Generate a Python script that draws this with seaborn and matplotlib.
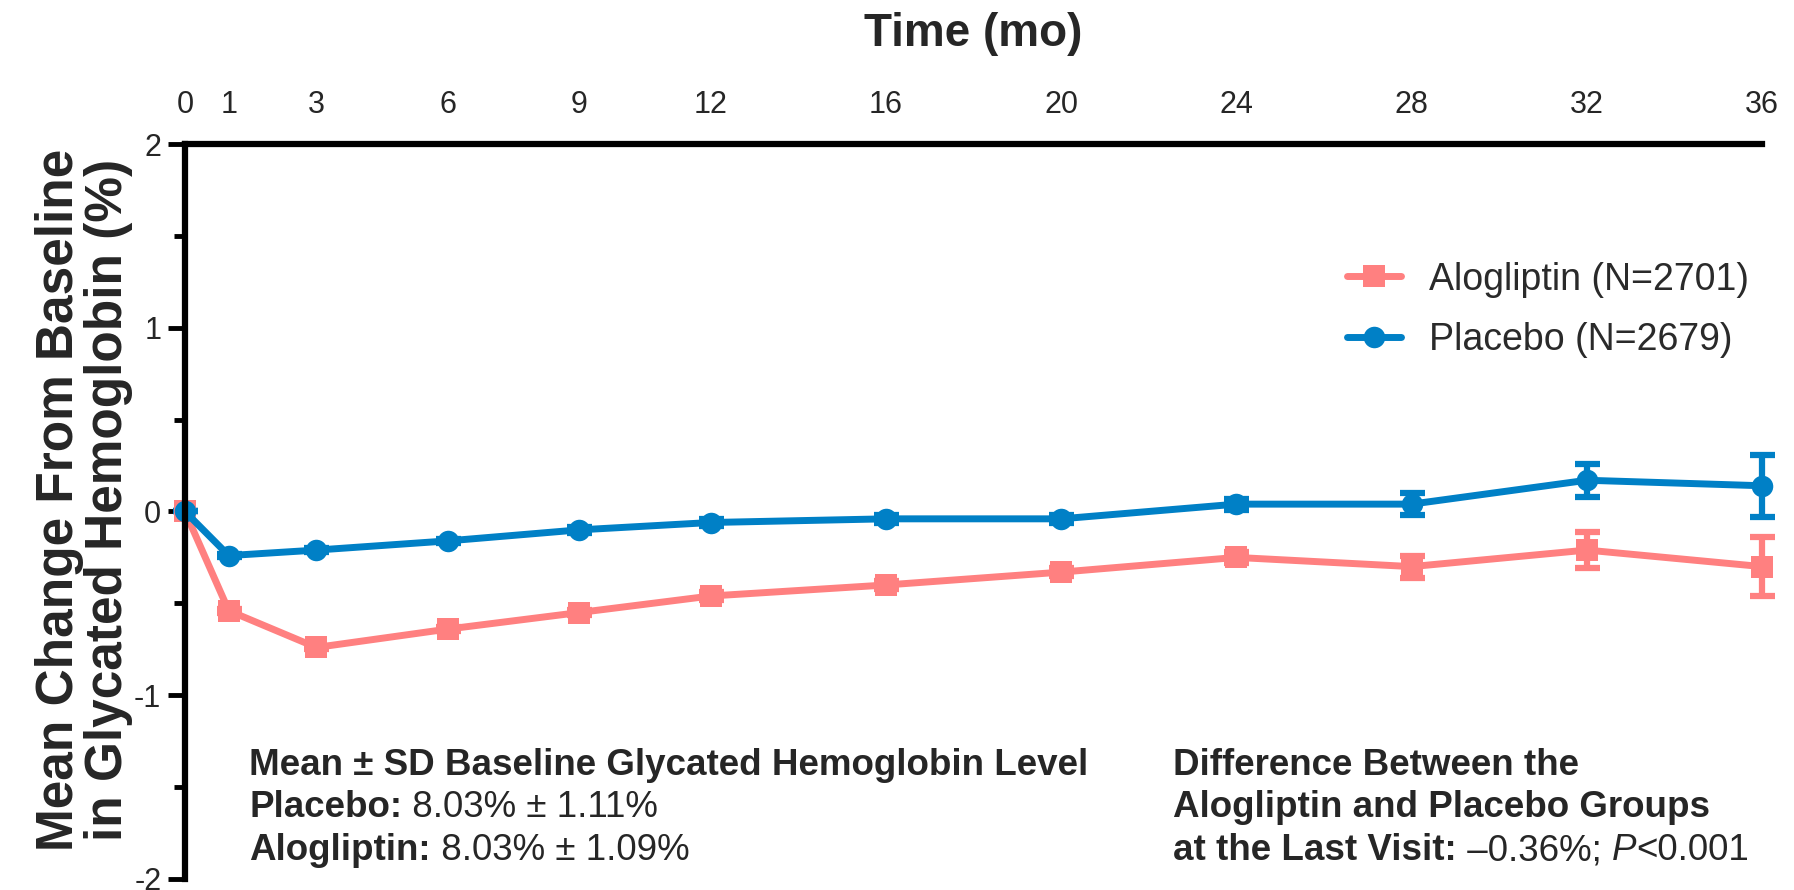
import matplotlib
matplotlib.use('Agg')
import pandas as pd
import seaborn as sns
from matplotlib import pyplot as plt
from matplotlib import font_manager
from matplotlib.ticker import MultipleLocator

months = [0, 1, 3, 6, 9, 12, 16, 20, 24, 28, 32, 36]
alogliptin_change = [0, -0.54, -0.74, -0.64, -0.55, -0.46, -0.40, -0.33, -0.25, -0.30, -0.21, -0.30]
alogliptin_err = [0, 0.01, 0.01, 0.01, 0.015, 0.02, 0.02, 0.02, 0.03, 0.06, 0.10, 0.16]
placebo_change = [0, -0.24, -0.21, -0.16, -0.10, -0.06, -0.04, -0.04, 0.04, 0.04, 0.17, 0.14]
placebo_err = [0, 0.01, 0.01, 0.01, 0.015, 0.02, 0.02, 0.02, 0.03, 0.06, 0.09, 0.17]
group_names = ['Alogliptin (N=2701)', 'Placebo (N=2679)']
y_ticks = [-2, -1, 0, 1, 2]

df = pd.concat([
    pd.DataFrame({'month': months, 'change': alogliptin_change, 'err': alogliptin_err, 'group': group_names[0]}),
    pd.DataFrame({'month': months, 'change': placebo_change, 'err': placebo_err, 'group': group_names[1]}),
], ignore_index=True)
palette = {group_names[0]: '#FF8080', group_names[1]: '#0080C6'}
markers = {group_names[0]: 's', group_names[1]: 'o'}

sns.set_style('ticks')
plt.rcParams['font.family'] = ['Liberation Sans', 'DejaVu Sans']
plt.rcParams['axes.unicode_minus'] = False

# tick labels in the original are a condensed face
installed = {f.name for f in font_manager.fontManager.ttflist}
if 'Liberation Sans Narrow' in installed:
    tick_font, tick_size = 'Liberation Sans Narrow', 25
else:
    tick_font, tick_size = 'Liberation Sans', 22

fig = plt.figure(figsize=(17.94, 8.9), dpi=100)
ax = fig.add_axes([0.1031, 0.0124, 0.8791, 0.8258])

# error bars first, then the lines on top
for name in group_names:
    sub = df[df['group'] == name]
    ax.errorbar(sub['month'], sub['change'], yerr=sub['err'], fmt='none', ecolor=palette[name],
                elinewidth=4.5, capsize=9, capthick=4.5, clip_on=False)

sns.lineplot(data=df, x='month', y='change', hue='group', style='group', markers=markers,
             dashes=False, palette=palette, linewidth=5, markersize=15.5, markeredgewidth=0,
             clip_on=False, ax=ax)

ax.set_xlim(0, 36)
ax.set_ylim(-2, 2)
ax.set_xticks(months)
ax.set_yticks(y_ticks)
ax.yaxis.set_minor_locator(MultipleLocator(0.5))
ax.xaxis.tick_top()
ax.xaxis.set_label_position('top')
ax.tick_params(axis='both', which='major', width=3.5, length=12, labelsize=tick_size, color='black', pad=5)
ax.tick_params(axis='y', which='minor', width=3.5, length=8, color='black')
for lab in ax.get_xticklabels() + ax.get_yticklabels():
    lab.set_family([tick_font, 'DejaVu Sans'])
sns.despine(ax=ax, top=False, right=True, bottom=True, left=False)
for s in ['top', 'left']:
    ax.spines[s].set_linewidth(4.5)
    ax.spines[s].set_color('black')

ax.set_xlabel('Time (mo)', fontsize=33, fontweight='bold', labelpad=32)
ax.set_ylabel('')
fig.text(0.047, 0.438, 'Mean Change From Baseline\nin Glycated Hemoglobin (%)', rotation=90,
         ha='center', va='center', multialignment='center', fontsize=37, fontweight='bold',
         linespacing=1.0)

handles, labels = ax.get_legend_handles_labels()
ax.legend(handles, labels, loc='upper left', bbox_to_anchor=(0.732, 0.744), bbox_transform=fig.transFigure,
          frameon=False, fontsize=27, handlelength=1.45, handletextpad=0.75, labelspacing=0.65,
          labelcolor='#2a2a2a')

text_size = 26.5


def rich_line(x, y, parts):
    first, kw = parts[0]
    prev = fig.text(x, y, first, fontsize=text_size, va='baseline', ha='left', **kw)
    for s, kw in parts[1:]:
        prev = ax.annotate(s, xy=(1, 0), xycoords=prev, va='bottom', ha='left',
                           fontsize=text_size, annotation_clip=False, **kw)


bold = {'fontweight': 'bold'}
plain = {}
ital = {'fontstyle': 'italic'}

left_x = 0.1388
right_x = 0.6538
rows_y = [0.1292, 0.0820, 0.0337]

rich_line(left_x, rows_y[0], [('Mean \u00b1 SD Baseline Glycated Hemoglobin Level', bold)])
rich_line(left_x, rows_y[1], [('Placebo:', bold), (' 8.03% \u00b1 1.11%', plain)])
rich_line(left_x, rows_y[2], [('Alogliptin:', bold), (' 8.03% \u00b1 1.09%', plain)])

rich_line(right_x, rows_y[0], [('Difference Between the', bold)])
rich_line(right_x, rows_y[1], [('Alogliptin and Placebo Groups', bold)])
rich_line(right_x, rows_y[2], [('at the Last Visit:', bold), (' \u20130.36%; ', plain), ('P', ital), ('<0.001', plain)])

fig.savefig('out.png', dpi=100)
